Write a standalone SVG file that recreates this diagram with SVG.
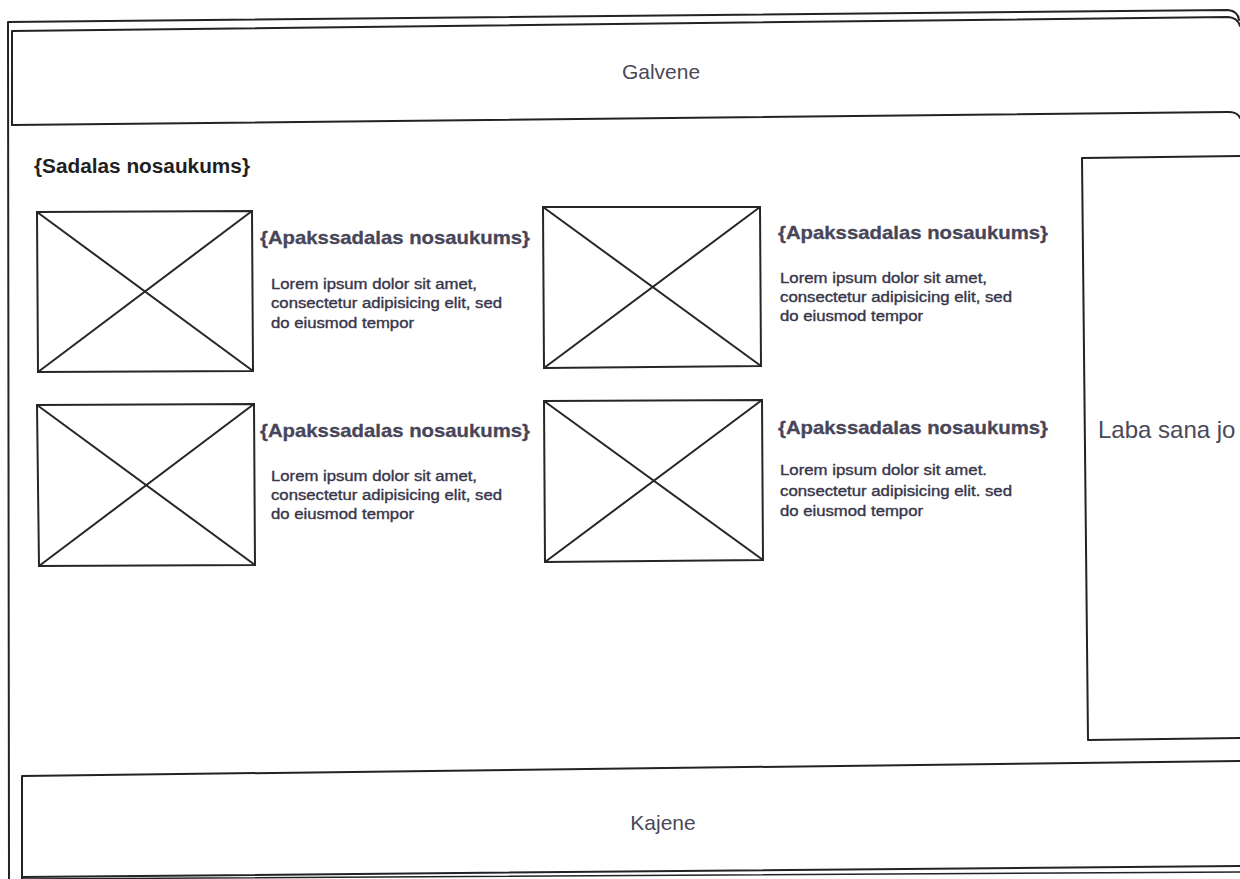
<svg xmlns="http://www.w3.org/2000/svg" width="1240" height="879" viewBox="0 0 1240 879">
<style>
.ln{fill:none;stroke:#232326;stroke-width:2;stroke-linejoin:round;stroke-linecap:round}
.ph{fill:none;stroke:#262629;stroke-width:2}
.big{font-family:"Liberation Sans",Arial,sans-serif;font-size:21px;fill:#4a4958}
.sec{font-family:"Liberation Sans",Arial,sans-serif;font-size:20px;font-weight:bold;fill:#1f1f24}
.ttl{font-family:"Liberation Sans",Arial,sans-serif;font-size:19px;font-weight:bold;fill:#474659;stroke:#474659;stroke-width:0.3}
.txt{font-family:"Liberation Sans",Arial,sans-serif;font-size:14px;fill:#37364a;stroke:#37364a;stroke-width:0.35}
</style>
<rect width="1240" height="879" fill="#ffffff"/>
<g id="frame">
<path class="ln" d="M9,879 L8,22 L1228,10 Q1238,11 1239,20"/>
</g>
<g id="header">
<path class="ln" d="M12,125 L12,31 L1228,17 Q1238,18 1240,26"/>
<path class="ln" d="M12,125 L1228,112 Q1238,112 1240,118"/>
<text class="big" x="661" y="79" text-anchor="middle">Galvene</text>
</g>
<g id="section-title">
<text class="sec" x="34" y="173" textLength="216" lengthAdjust="spacingAndGlyphs">{Sadalas nosaukums}</text>
</g>
<g id="item1">
<polygon class="ph" points="37,212 252,211 253,371 38,372"/>
<line class="ph" x1="37" y1="212" x2="253" y2="371"/>
<line class="ph" x1="252" y1="211" x2="38" y2="372"/>
<text class="ttl" x="260" y="244" textLength="270" lengthAdjust="spacingAndGlyphs">{Apakssadalas nosaukums}</text>
<text class="txt" x="271" y="289" textLength="206" lengthAdjust="spacingAndGlyphs">Lorem ipsum dolor sit amet,</text>
<text class="txt" x="271" y="308" textLength="231" lengthAdjust="spacingAndGlyphs">consectetur adipisicing elit, sed</text>
<text class="txt" x="271" y="328" textLength="143" lengthAdjust="spacingAndGlyphs">do eiusmod tempor</text>
</g>
<g id="item2">
<polygon class="ph" points="543,207 760,207 761,366 544,368"/>
<line class="ph" x1="543" y1="207" x2="761" y2="366"/>
<line class="ph" x1="760" y1="207" x2="544" y2="368"/>
<text class="ttl" x="778" y="239" textLength="270" lengthAdjust="spacingAndGlyphs">{Apakssadalas nosaukums}</text>
<text class="txt" x="780" y="283" textLength="207" lengthAdjust="spacingAndGlyphs">Lorem ipsum dolor sit amet,</text>
<text class="txt" x="780" y="302" textLength="232" lengthAdjust="spacingAndGlyphs">consectetur adipisicing elit, sed</text>
<text class="txt" x="780" y="321" textLength="143" lengthAdjust="spacingAndGlyphs">do eiusmod tempor</text>
</g>
<g id="item3">
<polygon class="ph" points="37,405 254,404 255,565 39,566"/>
<line class="ph" x1="37" y1="405" x2="255" y2="565"/>
<line class="ph" x1="254" y1="404" x2="39" y2="566"/>
<text class="ttl" x="260" y="437" textLength="270" lengthAdjust="spacingAndGlyphs">{Apakssadalas nosaukums}</text>
<text class="txt" x="271" y="481" textLength="206" lengthAdjust="spacingAndGlyphs">Lorem ipsum dolor sit amet,</text>
<text class="txt" x="271" y="500" textLength="231" lengthAdjust="spacingAndGlyphs">consectetur adipisicing elit, sed</text>
<text class="txt" x="271" y="519" textLength="143" lengthAdjust="spacingAndGlyphs">do eiusmod tempor</text>
</g>
<g id="item4">
<polygon class="ph" points="544,401 762,400 763,560 545,562"/>
<line class="ph" x1="544" y1="401" x2="763" y2="560"/>
<line class="ph" x1="762" y1="400" x2="545" y2="562"/>
<text class="ttl" x="778" y="434" textLength="270" lengthAdjust="spacingAndGlyphs">{Apakssadalas nosaukums}</text>
<text class="txt" x="780" y="475" textLength="207" lengthAdjust="spacingAndGlyphs">Lorem ipsum dolor sit amet.</text>
<text class="txt" x="780" y="496" textLength="232" lengthAdjust="spacingAndGlyphs">consectetur adipisicing elit. sed</text>
<text class="txt" x="780" y="516" textLength="143" lengthAdjust="spacingAndGlyphs">do eiusmod tempor</text>
</g>
<g id="sidebar">
<path class="ln" d="M1240,156 L1082,158 L1088,740 L1240,738"/>
<text class="big" x="1098" y="438" style="font-size:24px">Laba sana jo</text>
</g>
<g id="footer">
<path class="ln" d="M22,879 L22,776 L1240,761"/>
<path class="ln" d="M22,877 L1240,866"/>
<path class="ln" d="M22,879 L1240,872" style="stroke-width:1.5"/>
<text class="big" x="663" y="830" text-anchor="middle">Kajene</text>
</g>
<g id="connectors"></g>
</svg>
